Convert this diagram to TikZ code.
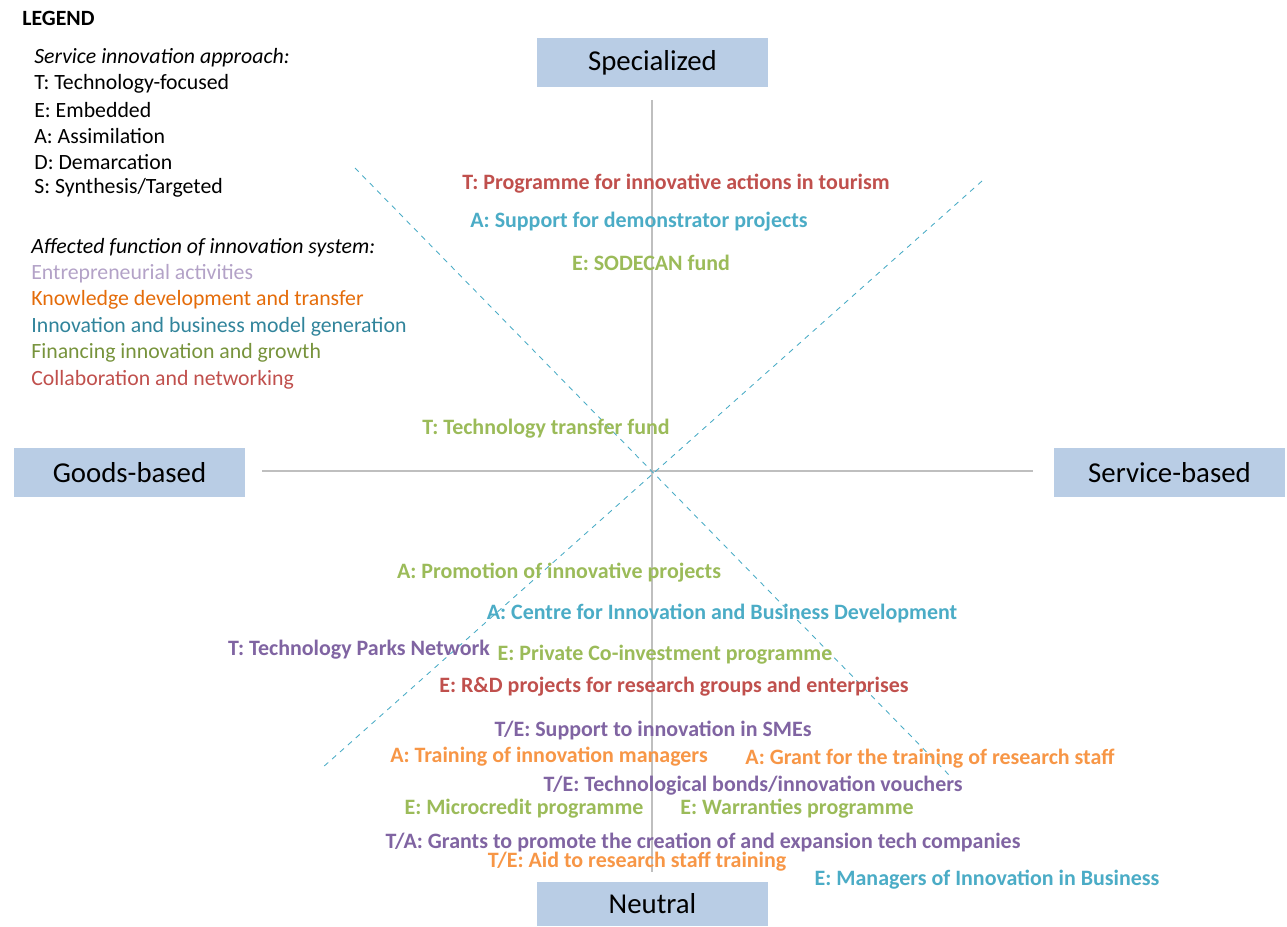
\documentclass[tikz,border=0pt]{standalone}
\usepackage{fontspec}
\setmainfont{Carlito}
\usetikzlibrary{positioning}
\definecolor{polef}{HTML}{B9CDE5}
\definecolor{axisg}{HTML}{BFBFBF}
\definecolor{splitc}{HTML}{4BACC6}
\definecolor{cred}{HTML}{C0504D}
\definecolor{cblue}{HTML}{4BACC6}
\definecolor{cgreen}{HTML}{9BBB59}
\definecolor{cpurple}{HTML}{8064A2}
\definecolor{corange}{HTML}{F79646}
\definecolor{lpurple}{HTML}{B3A2C7}
\definecolor{lorange}{HTML}{E46C0A}
\definecolor{lblue}{HTML}{31849B}
\definecolor{lgreen}{HTML}{77933C}
\definecolor{lred}{HTML}{C0504D}

\begin{document}
\begin{tikzpicture}[x=0.02cm,y=-0.02cm,
  pole/.style={fill=polef,minimum width=4.62cm,minimum height=0.98cm,inner sep=0pt,font=\fontsize{16.4}{19}\selectfont},
  axis/.style={axisg,line width=1.4pt},
  split/.style={splitc,dashed,line width=0.5pt},
  item/.style={inner sep=0pt,font=\fontsize{12.5}{15}\selectfont\bfseries},
  leg/.style={anchor=west,inner sep=0pt,font=\fontsize{12.4}{15}\selectfont}]
\useasboundingbox (0,0) rectangle (1287,926);
% poles
\node[pole] (spec) at (652.5,62.5) {Specialized};
\node[pole] (goods) at (129.5,472.5) {Goods-based};
\node[pole] (serv) at (1169.5,472.5) {Service-based};
\node[pole,minimum height=0.88cm] (neut) at (652.5,904) {Neutral};
% axes
\coordinate (vtop) at (652,100);
\coordinate (vbot) at (652,872);
\coordinate (hleft) at (262,471);
\coordinate (hright) at (1033,471);
\draw[axis] (vtop) -- (vbot);
\draw[axis] (hleft) -- (hright);
\coordinate (d1a) at (355,168);
\coordinate (d1b) at (952,778);
\coordinate (d2a) at (982,181);
\coordinate (d2b) at (322,768);
\draw[split] (d1a) -- (d1b);
\draw[split] (d2a) -- (d2b);
% legend
\node[anchor=west,inner sep=0pt,font=\fontsize{12.4}{15}\selectfont\bfseries] (legend) at (22,18) {LEGEND};
\node[leg,font=\fontsize{12.4}{15}\selectfont\itshape] (appr) at (34,58) {Service innovation approach:};
\foreach \t [count=\i] in {T: Technology-focused,E: Embedded,A: Assimilation,D: Demarcation,S: Synthesis/Targeted}
  \node[leg] (appr\i) at (34,58+26*\i) {\t};
\node[leg,font=\fontsize{12.4}{15}\selectfont\itshape] (func) at (31,248) {Affected function of innovation system:};
\foreach \t/\c [count=\i] in {Entrepreneurial activities/lpurple,Knowledge development and transfer/lorange,Innovation and business model generation/lblue,Financing innovation and growth/lgreen,Collaboration and networking/lred}
  \node[leg,text=\c] (func\i) at (31,247+26.5*\i) {\t};
% instruments
\node[item,text=cred] (i1) at (676,184) {T: Programme for innovative actions in tourism};
\node[item,text=cblue] (i2) at (639,222) {A: Support for demonstrator projects};
\node[item,text=cgreen] (i3) at (651,263) {E: SODECAN fund};
\node[item,text=cgreen] (i4) at (546,429) {T: Technology transfer fund};
\node[item,text=cgreen] (i5) at (559,573) {A: Promotion of innovative projects};
\node[item,text=cblue] (i6) at (722,613) {A: Centre for Innovation and Business Development};
\node[item,text=cpurple] (i7) at (359,650) {T: Technology Parks Network};
\node[item,text=cgreen] (i8) at (665,655) {E: Private Co-investment programme};
\node[item,text=cred] (i9) at (674,687) {E: R\&D projects for research groups and enterprises};
\node[item,text=cpurple] (i10) at (653,730) {T/E: Support to innovation in SMEs};
\node[item,text=corange] (i11) at (549,757) {A: Training of innovation managers};
\node[item,text=corange] (i12) at (930,759) {A: Grant for the training of research staff};
\node[item,text=cpurple] (i13) at (753,786) {T/E: Technological bonds/innovation vouchers};
\node[item,text=cgreen] (i14) at (524,809) {E: Microcredit programme};
\node[item,text=cgreen] (i15) at (797,809) {E: Warranties programme};
\node[item,text=cpurple] (i16) at (703,842) {T/A: Grants to promote the creation of and expansion tech companies};
\node[item,text=corange] (i17) at (637,862) {T/E: Aid to research staff training};
\node[item,text=cblue] (i18) at (987,880) {E: Managers of Innovation in Business};
\end{tikzpicture}
\end{document}
